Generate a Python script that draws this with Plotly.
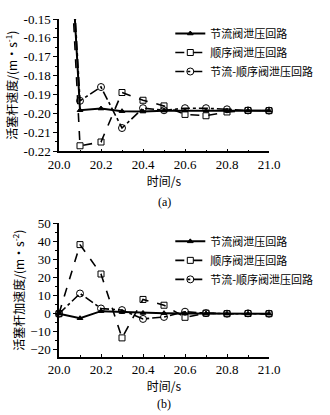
import plotly.graph_objects as go
from plotly.subplots import make_subplots

t = [20.0, 20.1, 20.2, 20.3, 20.4, 20.5, 20.6, 20.7, 20.8, 20.9, 21.0]
names = ["节流阀泄压回路", "顺序阀泄压回路", "节流-顺序阀泄压回路"]

vel_throttle = [0.0, -0.1983, -0.1974, -0.1988, -0.1990, -0.1985, -0.1985, -0.1985, -0.1985, -0.1985, -0.1985]
vel_sequence = [0.0, -0.2171, -0.2151, -0.1889, -0.1930, -0.1960, -0.2005, -0.2012, -0.1992, -0.1984, -0.1985]
vel_combined = [0.0, -0.1933, -0.1860, -0.2077, -0.1972, -0.1983, -0.1972, -0.1972, -0.1978, -0.1984, -0.1985]

acc_throttle = [0.0, -2.5, 1.4, 0.9, 0.4, 0.3, 0.1, 0.1, 0.0, 0.0, 0.0]
acc_sequence = [0.0, 38.3, 22.0, -13.4, 7.9, 4.7, -2.0, 0.3, 0.0, 0.1, 0.0]
acc_combined = [0.0, 11.2, 2.9, 2.0, -2.9, -1.8, 1.1, 0.3, 0.0, 0.2, 0.0]

styles = [
    dict(dash="solid", symbol="triangle-up", width=2.0, msize=5),
    dict(dash="dash", symbol="square-open", width=1.6, msize=6),
    dict(dash="dashdot", symbol="circle-open", width=1.6, msize=7),
]

fig = make_subplots(rows=2, cols=1, vertical_spacing=0.21)

for i, ys in enumerate([vel_throttle, vel_sequence, vel_combined]):
    s = styles[i]
    fig.add_trace(go.Scatter(x=t, y=ys, name=names[i], mode="lines+markers",
                             line=dict(color="black", width=s["width"], dash=s["dash"]),
                             marker=dict(symbol=s["symbol"], size=s["msize"], color="black",
                                         line=dict(color="black", width=1)),
                             legend="legend", cliponaxis=False), row=1, col=1)
for i, ys in enumerate([acc_throttle, acc_sequence, acc_combined]):
    s = styles[i]
    fig.add_trace(go.Scatter(x=t, y=ys, name=names[i], mode="lines+markers",
                             line=dict(color="black", width=s["width"], dash=s["dash"]),
                             marker=dict(symbol=s["symbol"], size=s["msize"], color="black",
                                         line=dict(color="black", width=1)),
                             legend="legend2", cliponaxis=False), row=2, col=1)

tickfont = dict(family="Liberation Serif, Times New Roman, serif", size=13, color="black")
titlefont = dict(family="Noto Sans CJK SC, Liberation Serif", size=12, color="black")

xcommon = dict(range=[20.0, 21.0], tickvals=[20.0, 20.2, 20.4, 20.6, 20.8, 21.0],
               ticktext=["20.0", "20.2", "20.4", "20.6", "20.8", "21.0"],
               showgrid=False, zeroline=False, showline=True, linecolor="black", linewidth=1.5,
               ticks="inside", ticklen=3, tickcolor="black", tickfont=tickfont,
               minor=dict(tickvals=[20.1, 20.3, 20.5, 20.7, 20.9], ticks="inside", ticklen=2,
                          tickcolor="black"))

fig.update_xaxes(**xcommon, domain=[0, 1], title=dict(text="时间/s", font=titlefont, standoff=3), row=1, col=1)
fig.update_xaxes(**xcommon, domain=[0, 1], title=dict(text="时间/s", font=titlefont, standoff=3), row=2, col=1)

fig.update_yaxes(range=[-0.22, -0.15], tickvals=[-0.22, -0.21, -0.20, -0.19, -0.18, -0.17, -0.16, -0.15],
                 ticktext=["-0.22", "-0.21", "-0.20", "-0.19", "-0.18", "-0.17", "-0.16", "-0.15"],
                 showgrid=False, zeroline=False, showline=True, linecolor="black", linewidth=1.5,
                 ticks="outside", ticklen=4, tickcolor="black", tickfont=tickfont,
                 minor=dict(dtick=0.005, ticks="outside", ticklen=2, tickcolor="black"),
                 title=dict(text="活塞杆速度/(m·s<sup>-1</sup>)", font=titlefont, standoff=3),
                 domain=[0.6087, 1.0], row=1, col=1)
fig.update_yaxes(range=[-24, 50], tickvals=[-20, -10, 0, 10, 20, 30, 40, 50],
                 showgrid=False, zeroline=False, showline=True, linecolor="black", linewidth=1.5,
                 ticks="outside", ticklen=4, tickcolor="black", tickfont=tickfont,
                 minor=dict(dtick=5, ticks="outside", ticklen=2, tickcolor="black"),
                 title=dict(text="活塞杆加速度/(m·s<sup>-2</sup>)", font=titlefont, standoff=3),
                 domain=[0.0, 0.395], row=2, col=1)

legfont = dict(family="Noto Sans CJK SC, Liberation Serif", size=11, color="black")
fig.update_layout(
    width=330, height=415,
    margin=dict(l=58, r=14, t=12, b=58),
    paper_bgcolor="white", plot_bgcolor="white",
    showlegend=True,
    legend=dict(x=0.53, y=1.0, xanchor="left", yanchor="top", font=legfont,
                bgcolor="rgba(0,0,0,0)", itemwidth=30, tracegroupgap=0),
    legend2=dict(x=0.53, y=0.385, xanchor="left", yanchor="top", font=legfont,
                 bgcolor="rgba(0,0,0,0)", itemwidth=30, tracegroupgap=0),
    annotations=[
        dict(text="(a)", x=0.5, y=(357 - 199) / 345, xref="paper", yref="paper", showarrow=False,
             font=dict(family="Liberation Serif", size=12, color="black"),
             yanchor="middle", xanchor="center"),
        dict(text="(b)", x=0.5, y=(357 - 405) / 345, xref="paper", yref="paper", showarrow=False,
             font=dict(family="Liberation Serif", size=12, color="black"),
             yanchor="middle", xanchor="center"),
    ],
)

fig.write_html("out.html")
